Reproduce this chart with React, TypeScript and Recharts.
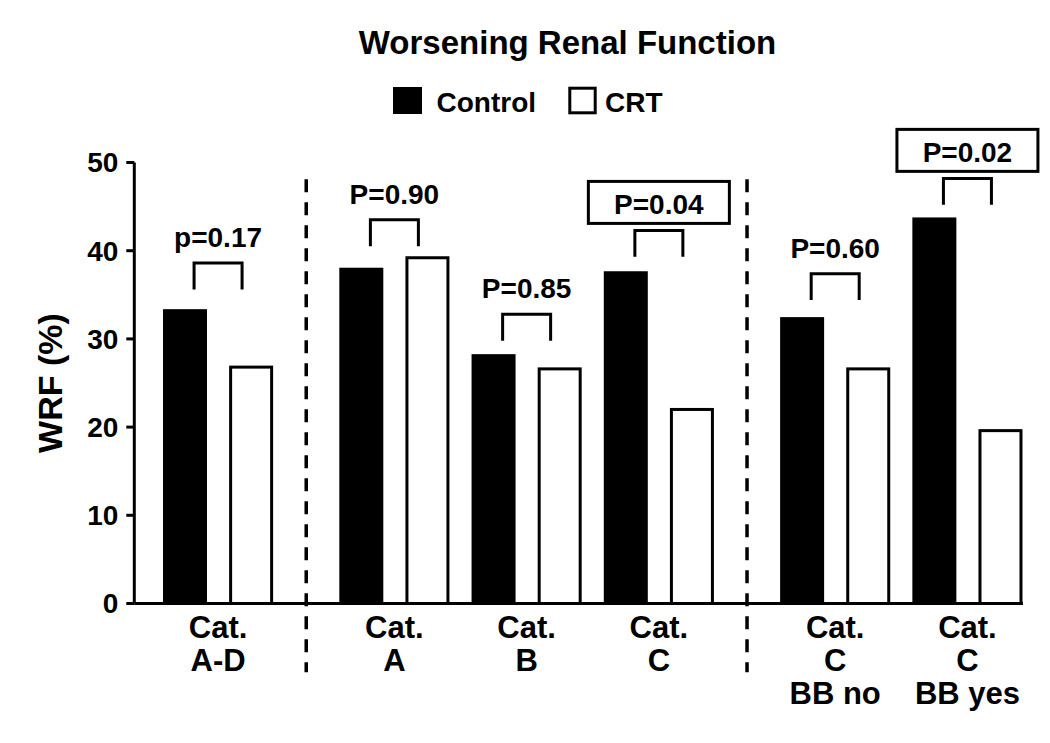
import React from 'react';
import { ComposedChart, Bar, XAxis, YAxis, ReferenceLine, ReferenceArea } from 'recharts';

// ---------------- data ----------------
const categories = ['Cat.\nA-D', 'Cat.\nA', 'Cat.\nB', 'Cat.\nC', 'Cat.\nC\nBB no', 'Cat.\nC\nBB yes'];
const controlValues = [33.2, 37.9, 28.1, 37.5, 32.3, 43.6];
const crtValues = [26.8, 39.2, 26.6, 22.0, 26.6, 19.6];
const pLabels = ['p=0.17', 'P=0.90', 'P=0.85', 'P=0.04', 'P=0.60', 'P=0.02'];
const pSignificant = [false, false, false, true, false, true];
const bracketLevels = [38.6, 43.5, 32.8, 42.3, 37.4, 48.2];
const sections = [0, 1, 1, 1, 2, 2];
const yTicks = [0, 10, 20, 30, 40, 50];
const seriesNames = ['Control', 'CRT'];
const seriesFills = ['#000000', '#ffffff'];
const TITLE = 'Worsening Renal Function';
const Y_LABEL = 'WRF (%)';

// ---------------- layout constants ----------------
const FONT = '"Liberation Sans", Arial, Helvetica, sans-serif';
const PAIR_STEP = 6; // slots between bar centres
const SECTION_EXTRA = 4; // extra slots where a dashed divider sits
const BAR_OUTER = 44;
const STROKE = 3;
const BRACKET_DROP = 3.0;
const BRACKET_HALF = 24;
const DIVIDER_TOP = 48.1;
const DIVIDER_BOTTOM = -7.8;
const X_FONT = 31;
const X_LINE = 33;

type Row = { key: string; control?: number; crt?: number };

const groupSlots: { control: number; crt: number; center: number }[] = [];
const dividerSlots: number[] = [];
let cursor = 0;
categories.forEach((_, i) => {
  if (i > 0) {
    const newSection = sections[i] !== sections[i - 1];
    const step = PAIR_STEP + (newSection ? SECTION_EXTRA : 0);
    if (newSection) dividerSlots.push(cursor + step / 2);
    cursor += step;
  }
  groupSlots.push({ control: cursor, crt: cursor + PAIR_STEP, center: cursor + PAIR_STEP / 2 });
  cursor += PAIR_STEP;
});
const totalSlots = cursor + 1;
const slotKey = (k: number) => `s${k}`;
const rows: Row[] = Array.from({ length: totalSlots }, (_, k) => ({ key: slotKey(k) }));
const labelBySlot: Record<string, string> = {};
groupSlots.forEach((g, i) => {
  rows[g.control].control = controlValues[i];
  rows[g.crt].crt = crtValues[i];
  labelBySlot[slotKey(g.center)] = categories[i];
});

const makeBarShape = (key: 'control' | 'crt', fill: string) => (props: any) => {
  const v = props.payload ? props.payload[key] : undefined;
  if (v == null || !props.height) return <g />;
  const cx = props.x + props.width / 2;
  const w = BAR_OUTER - STROKE;
  return (
    <rect x={cx - w / 2} y={props.y} width={w} height={props.height} fill={fill} stroke="#000" strokeWidth={STROKE} />
  );
};

const XTick = (props: any) => {
  const { x, y, payload } = props;
  const label = labelBySlot[payload.value];
  if (!label) return <g />;
  const lines = label.split('\n');
  return (
    <g>
      {lines.map((l: string, i: number) => (
        <text
          key={i}
          x={x}
          y={y + 34 + i * X_LINE}
          textAnchor="middle"
          fontSize={X_FONT}
          fontWeight="bold"
          fontFamily={FONT}
          fill="#000"
        >
          {l}
        </text>
      ))}
    </g>
  );
};

const makeBracket = (i: number) => (props: any) => {
  const { x, y, width, height } = props;
  const cx = x + width / 2;
  const base = y - 16;
  return (
    <g>
      <path
        d={`M${cx - BRACKET_HALF},${y + height} V${y} H${cx + BRACKET_HALF} V${y + height}`}
        fill="none"
        stroke="#000"
        strokeWidth={STROKE}
      />
      {pSignificant[i] && (
        <rect x={cx - 70.5} y={base - 33} width={141} height={42} fill="#fff" stroke="#000" strokeWidth={STROKE} />
      )}
      <text x={cx} y={base} textAnchor="middle" fontSize={28} fontWeight="bold" fontFamily={FONT} fill="#000">
        {pLabels[i]}
      </text>
    </g>
  );
};

export default function App() {
  return (
    <div style={{ position: 'absolute', left: 0, top: 0, width: 1050, height: 743, background: '#fff' }}>
      <ComposedChart
        width={1050}
        height={743}
        data={rows}
        margin={{ top: 162.5, right: 27, bottom: 39.5, left: 0 }}
        barCategoryGap={0}
      >
        <XAxis
          dataKey="key"
          type="category"
          interval={0}
          height={100}
          tickSize={0}
          tickMargin={0}
          tickLine={false}
          tick={<XTick />}
          axisLine={{ stroke: '#000', strokeWidth: STROKE }}
          padding={{ left: 45.2, right: 17 }}
        />
        <YAxis
          type="number"
          domain={[0, 50]}
          ticks={yTicks}
          width={134.3}
          tickSize={8}
          tickMargin={8}
          axisLine={{ stroke: '#000', strokeWidth: STROKE }}
          tickLine={{ stroke: '#000', strokeWidth: STROKE }}
          tick={{ fontSize: 28, fontWeight: 'bold', fill: '#000', fontFamily: FONT }}
          label={{
            content: (p: any) => {
              const vb = p.viewBox || { x: 0, y: 162.5, height: 441 };
              const cy = vb.y + vb.height / 2;
              const bx = 62;
              return (
                <text
                  x={bx}
                  y={cy}
                  transform={`rotate(-90, ${bx}, ${cy})`}
                  textAnchor="middle"
                  fontSize={34}
                  fontWeight="bold"
                  fontFamily={FONT}
                  fill="#000"
                >
                  {Y_LABEL}
                </text>
              );
            },
          }}
        />
        <Bar
          dataKey="control"
          name={seriesNames[0]}
          stackId="s"
          fill={seriesFills[0]}
          isAnimationActive={false}
          shape={makeBarShape('control', seriesFills[0])}
        />
        <Bar
          dataKey="crt"
          name={seriesNames[1]}
          stackId="s"
          fill={seriesFills[1]}
          isAnimationActive={false}
          shape={makeBarShape('crt', seriesFills[1])}
        />
        {dividerSlots.map((s) => (
          <ReferenceLine
            key={`d${s}`}
            segment={[
              { x: slotKey(s), y: DIVIDER_TOP },
              { x: slotKey(s), y: DIVIDER_BOTTOM },
            ]}
            ifOverflow="visible"
            stroke="#000"
            strokeWidth={3.5}
            strokeDasharray="13 10"
          />
        ))}
        {groupSlots.map((g, i) => (
          <ReferenceArea
            key={`b${i}`}
            x1={slotKey(g.control)}
            x2={slotKey(g.crt)}
            y1={bracketLevels[i] - BRACKET_DROP}
            y2={bracketLevels[i]}
            ifOverflow="visible"
            shape={makeBracket(i)}
          />
        ))}
      </ComposedChart>
      <svg
        width={1050}
        height={743}
        style={{ position: 'absolute', left: 0, top: 0, pointerEvents: 'none' }}
      >
        <text x={567.5} y={54} textAnchor="middle" fontSize={33} fontWeight="bold" fontFamily={FONT} fill="#000">
          {TITLE}
        </text>
        <rect x={393} y={87} width={29} height={27} fill={seriesFills[0]} />
        <text x={436.5} y={111.5} fontSize={28} fontWeight="bold" fontFamily={FONT} fill="#000">
          {seriesNames[0]}
        </text>
        <rect x={569.8} y={88.2} width={25.4} height={24.6} fill={seriesFills[1]} stroke="#000" strokeWidth={STROKE} />
        <text x={605} y={111.5} fontSize={28} fontWeight="bold" fontFamily={FONT} fill="#000">
          {seriesNames[1]}
        </text>
      </svg>
    </div>
  );
}
